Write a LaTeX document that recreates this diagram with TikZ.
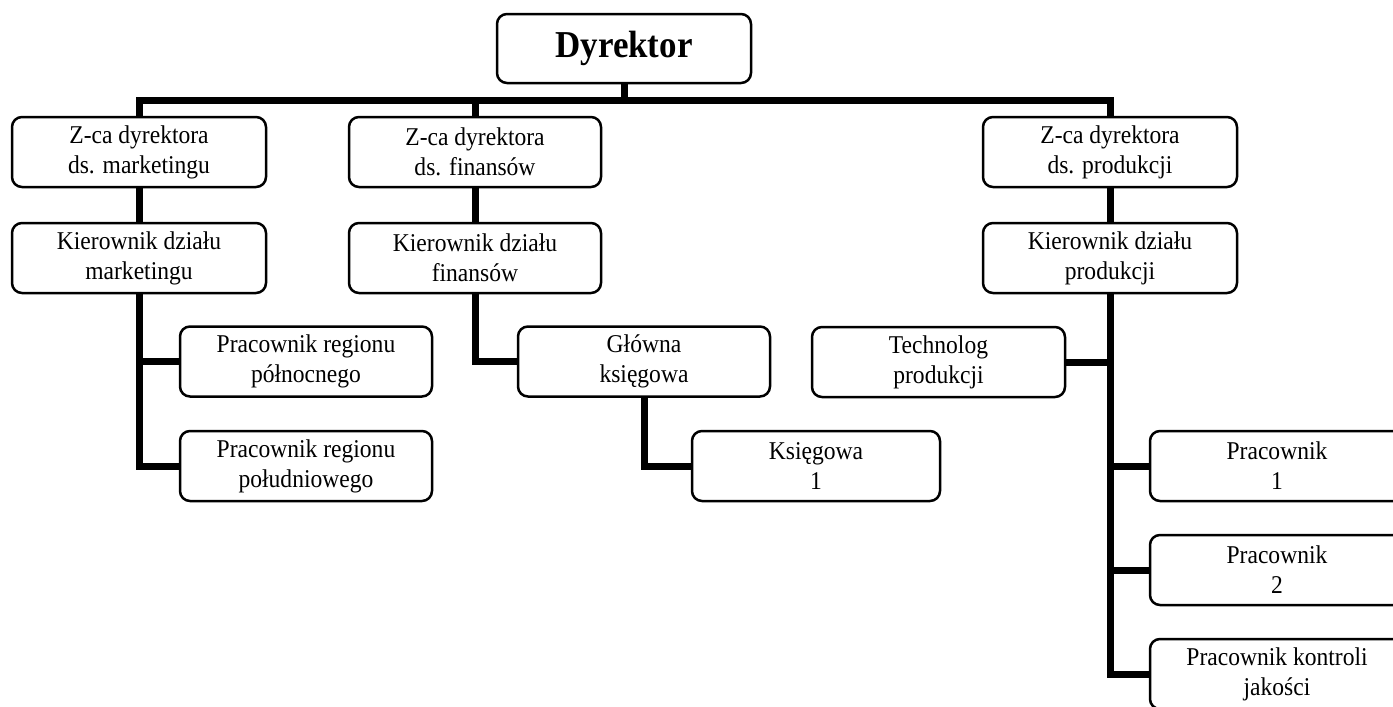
\documentclass[tikz,border=0pt]{standalone}
\usepackage{fontspec}
\setmainfont{Liberation Serif}[FakeStretch=0.92]
\begin{document}
\begin{tikzpicture}[x=0.5pt,y=-0.5pt,
  box/.style={draw, line width=1.25pt, rounded corners=5pt, fill=white,
    minimum width=127pt, minimum height=35pt, inner sep=0pt, align=center,
    font=\fontsize{12.8}{15}\selectfont},
  conn/.style={line width=3.5pt, line join=miter}]
\clip (0,0) rectangle (1393,707);
\fill[white] (0,0) rectangle (1393,707);
% nodes
\node[box, minimum height=34.5pt, font=\fontsize{19}{21}\selectfont\bfseries] (dir) at (624,48.5) {\raisebox{-1.5pt}{Dyrektor}};
\node[box] (z1) at (139,152) {Z-ca dyrektora\\ds. marketingu};
\node[box, minimum width=126pt] (z2) at (475,152) {Z-ca dyrektora\\ds. finansów};
\node[box] (z3) at (1110,152) {Z-ca dyrektora\\ds. produkcji};
\node[box] (k1) at (139,258) {Kierownik działu\\marketingu};
\node[box, minimum width=126pt] (k2) at (475,258) {Kierownik działu\\finansów};
\node[box] (k3) at (1110,258) {Kierownik działu\\produkcji};
\node[box, minimum width=126pt] (prn) at (306,361.5) {Pracownik regionu\\północnego};
\node[box, minimum width=126pt] (prs) at (306,466) {Pracownik regionu\\południowego};
\node[box, minimum width=126pt] (gk) at (644,361.5) {Główna\\księgowa};
\node[box, minimum width=124pt] (ks) at (816,466) {Księgowa\\1};
\node[box, minimum width=126.5pt] (tp) at (938.5,362) {Technolog\\produkcji};
\node[box] (p1) at (1277,466) {Pracownik\\1};
\node[box] (p2) at (1277,570) {Pracownik\\2};
\node[box] (pk) at (1277,674) {Pracownik kontroli\\jakości};
% connectors
\coordinate (busl) at (139,100);
\coordinate (busr) at (1110,100);
\draw[conn] (z1.north) -- (busl) -- (busr) -- (z3.north);
\draw[conn] (dir.south) -- (dir.south |- busl);
\draw[conn] (z2.north) -- (z2.north |- busl);
\draw[conn] (z1.south) -- (k1.north);
\draw[conn] (z2.south) -- (k2.north);
\draw[conn] (z3.south) -- (k3.north);
\draw[conn] (k1.south) |- (prs.west);
\draw[conn] (k1.south |- prn.west) -- (prn.west);
\draw[conn] (k2.south) |- (gk.west);
\draw[conn] (gk.south) |- (ks.west);
\draw[conn] (k3.south) |- (pk.west);
\draw[conn] (k3.south |- p1.west) -- (p1.west);
\draw[conn] (k3.south |- p2.west) -- (p2.west);
\draw[conn] (k3.south |- tp.east) -- (tp.east);
\end{tikzpicture}
\end{document}
